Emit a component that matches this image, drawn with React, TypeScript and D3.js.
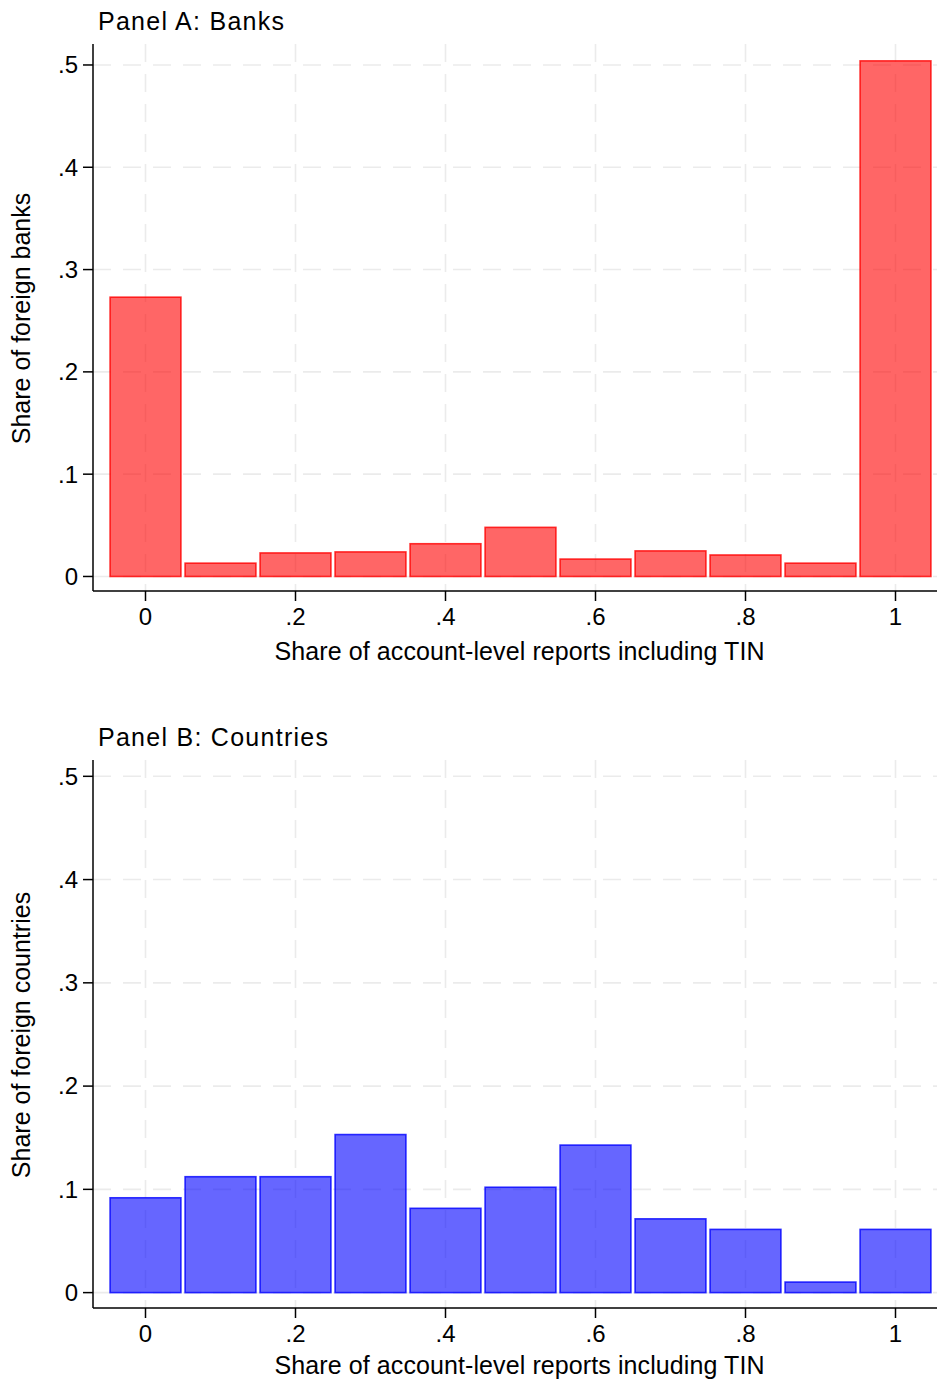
import React from "react";
import * as d3 from "d3";

const binCenters = [0, 0.1, 0.2, 0.3, 0.4, 0.5, 0.6, 0.7, 0.8, 0.9, 1.0];
const banksShare = [0.273, 0.013, 0.023, 0.024, 0.032, 0.048, 0.017, 0.025, 0.021, 0.013, 0.504];
const countriesShare = [9 / 98, 11 / 98, 11 / 98, 15 / 98, 8 / 98, 10 / 98, 14 / 98, 7 / 98, 6 / 98, 1 / 98, 6 / 98];
const xTicks = [0, 0.2, 0.4, 0.6, 0.8, 1];
const xTickLabels = ["0", ".2", ".4", ".6", ".8", "1"];
const yTicks = [0, 0.1, 0.2, 0.3, 0.4, 0.5];
const yTickLabels = ["0", ".1", ".2", ".3", ".4", ".5"];

const W = 937;
const H = 1381;
const FONT = "'Liberation Sans', Arial, Helvetica, sans-serif";

type PanelProps = {
  title: string;
  titleLen: number;
  yTitle: string;
  values: number[];
  fill: string;
  stroke: string;
  top: number;
  bottom: number;
  yDomain: [number, number];
  titleY: number;
  xTitleOffset: number;
};

function Panel({ title, titleLen, yTitle, values, fill, stroke, top, bottom, yDomain, titleY, xTitleOffset }: PanelProps) {
  const left = 93;
  const x = d3.scaleLinear().domain([-0.07, 1.07]).range([left, left + 855]);
  const y = d3.scaleLinear().domain(yDomain).range([bottom, top]);
  const halfW = 0.0472;
  const grid = "#ebebeb";
  return (
    <g>
      <text x={98} y={titleY} fontSize={25} fontFamily={FONT} fill="#000" textLength={titleLen}>
        {title}
      </text>
      {yTicks.map((t, i) => (
        <line key={"gy" + i} x1={left} x2={W} y1={y(t)} y2={y(t)} stroke={grid} strokeWidth={1.6} strokeDasharray="18 12" />
      ))}
      {xTicks.map((t, i) => (
        <line key={"gx" + i} x1={x(t)} x2={x(t)} y1={top} y2={bottom} stroke={grid} strokeWidth={1.6} strokeDasharray="18 12" />
      ))}
      {values.map((v, i) => (
        <rect
          key={"b" + i}
          x={x(binCenters[i] - halfW)}
          y={y(v)}
          width={x(binCenters[i] + halfW) - x(binCenters[i] - halfW)}
          height={y(0) - y(v)}
          fill={fill}
          fillOpacity={0.6}
          stroke={stroke}
          strokeOpacity={0.8}
          strokeWidth={1.6}
        />
      ))}
      <line x1={left} x2={left} y1={top} y2={bottom} stroke="#000" strokeWidth={1.5} />
      <line x1={left} x2={W} y1={bottom} y2={bottom} stroke="#000" strokeWidth={1.5} />
      {yTicks.map((t, i) => (
        <g key={"yt" + i}>
          <line x1={left - 10} x2={left} y1={y(t)} y2={y(t)} stroke="#000" strokeWidth={1.5} />
          <text x={78} y={y(t)} dy="0.35em" textAnchor="end" fontSize={24} fontFamily={FONT} fill="#000">
            {yTickLabels[i]}
          </text>
        </g>
      ))}
      {xTicks.map((t, i) => (
        <g key={"xt" + i}>
          <line x1={x(t)} x2={x(t)} y1={bottom} y2={bottom + 10} stroke="#000" strokeWidth={1.5} />
          <text x={x(t)} y={bottom + 34} textAnchor="middle" fontSize={24} fontFamily={FONT} fill="#000">
            {xTickLabels[i]}
          </text>
        </g>
      ))}
      <text x={x(0.5) - 1} y={bottom + xTitleOffset} textAnchor="middle" fontSize={25} fontFamily={FONT} fill="#000" textLength={490}>
        Share of account-level reports including TIN
      </text>
      <text
        transform={`translate(30, ${(top + bottom) / 2 + 1}) rotate(-90)`}
        textAnchor="middle"
        fontSize={25}
        fontFamily={FONT}
        fill="#000"
      >
        {yTitle}
      </text>
    </g>
  );
}

export default function App() {
  return (
    <svg width={W} height={H} style={{ position: "absolute", left: 0, top: 0, background: "#fff" }}>
      <rect x={0} y={0} width={W} height={H} fill="#fff" />
      <Panel
        title="Panel A: Banks"
        titleLen={186}
        yTitle="Share of foreign banks"
        values={banksShare}
        fill="rgb(255,0,0)"
        stroke="rgb(255,0,0)"
        top={44}
        bottom={591}
        yDomain={[-0.0142, 0.5205]}
        titleY={30}
        xTitleOffset={69}
      />
      <Panel
        title="Panel B: Countries"
        titleLen={230}
        yTitle="Share of foreign countries"
        values={countriesShare}
        fill="rgb(0,0,255)"
        stroke="rgb(0,0,255)"
        top={760}
        bottom={1308}
        yDomain={[-0.0149, 0.5158]}
        titleY={746}
        xTitleOffset={66}
      />
    </svg>
  );
}
